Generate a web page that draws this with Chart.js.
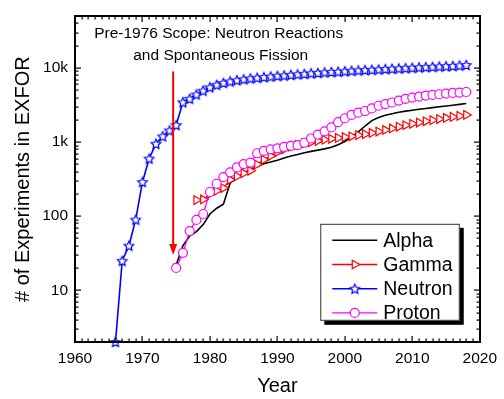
<!DOCTYPE html>
<html>
<head>
<meta charset="utf-8">
<script src="https://cdn.jsdelivr.net/npm/chart.js@4.4.0/dist/chart.umd.min.js"></script>
<style>
html,body{margin:0;padding:0;background:#fff;}
#wrap{width:504px;height:399px;position:relative;}
</style>
</head>
<body>
<div id="wrap"><canvas id="c" width="504" height="399"></canvas></div>
<script>
// ---------- data ----------
const years = [1966,1967,1968,1969,1970,1971,1972,1973,1974,1975,
  1976,1977,1978,1979,1980,1981,1982,1983,1984,1985,
  1986,1987,1988,1989,1990,1991,1992,1993,1994,1995,
  1996,1997,1998,1999,2000,2001,2002,2003,2004,2005,
  2006,2007,2008,2009,2010,2011,2012,2013,2014,2015,
  2016,2017,2018];

const neutron = [2,25,40,90,290,600,950,1200,1440,1700,
  3450,3850,4400,4950,5500,5950,6300,6600,6850,7050,
  7250,7400,7550,7700,7850,7950,8100,8250,8350,8500,
  8600,8750,8850,8950,9050,9200,9300,9400,9500,9600,
  9700,9800,9900,10000,10100,10200,10300,10400,10500,10600,
  10700,10850,11000];

const alpha = [null,null,null,null,null,null,null,null,null,22,
  40,54,62,77,107,128,145,280,330,380,
  430,470,510,540,570,610,650,680,720,750,
  780,810,850,920,1020,1180,1380,1650,1950,2150,
  2300,2420,2530,2620,2700,2780,2850,2920,3000,3080,
  3150,3230,3320];

const gamma = [null,null,null,null,null,null,null,null,null,null,
  null,null,165,168,200,220,240,310,345,380,
  410,500,580,650,730,800,870,920,960,1000,
  1040,1080,1110,1140,1170,1200,1240,1280,1330,1390,
  1460,1530,1610,1690,1770,1840,1910,1980,2050,2120,
  2190,2260,2330];

const proton = [null,null,null,null,null,null,null,null,null,20,
  32,63,89,107,212,274,336,391,456,506,
  530,707,760,800,825,860,890,910,980,1120,
  1265,1400,1580,1860,2100,2330,2500,2630,2850,3100,
  3260,3430,3640,3840,4000,4120,4250,4340,4430,4520,
  4620,4660,4750];

const seriesNames = ['Alpha','Gamma','Neutron','Proton'];
const xTickValues = [1960,1970,1980,1990,2000,2010,2020];
const yTickValues = [10,100,1000,10000];
const yTickLabels = ['10','100','1k','10k'];
const noteLines = ['Pre-1976 Scope: Neutron Reactions','and Spontaneous Fission'];
const arrowYear = 1974.55, arrowFrom = 9000, arrowTo = 30;

// ---------- helpers ----------
const FONT = "'Liberation Sans', Arial, Helvetica, sans-serif";
function pts(vals){ return years.map((y,i)=>({x:y, y:vals[i]})); }

function makeStar(r, color){
  const s = Math.ceil(r*2 + 4);
  const c = document.createElement('canvas');
  c.width = s; c.height = s;
  const g = c.getContext('2d');
  g.translate(s/2, s/2 + 0.5);
  g.beginPath();
  for (let i = 0; i < 10; i++){
    const rad = (i % 2) ? r*0.48 : r;
    const a = -Math.PI/2 + i*Math.PI/5;
    g.lineTo(rad*Math.cos(a), rad*Math.sin(a));
  }
  g.closePath();
  g.fillStyle = '#fff'; g.fill();
  g.strokeStyle = color; g.lineWidth = 1.2; g.stroke();
  return c;
}
const starImg = makeStar(5, '#0000ff');

function drawTicksAndFrame(chart){
  const {ctx, chartArea: ca, scales:{x, y}} = chart;
  const L0 = Math.round(ca.left), T0 = Math.round(ca.top);
  const R0 = Math.round(ca.right), B0 = Math.round(ca.bottom);
  ctx.save();
  ctx.fillStyle = '#000000';
  for (let yr = 1960; yr <= 2020; yr++){
    const px = Math.round(x.getPixelForValue(yr));
    const L = (yr % 10 === 0) ? 6 : 3.5;
    ctx.fillRect(px - 0.5, B0 - L, 1.2, L);
    ctx.fillRect(px - 0.5, T0, 1.2, L);
  }
  for (let d = 1; d <= 10000; d *= 10){
    for (let m = 1; m <= 9; m++){
      const v = m*d;
      if (v < 2 || v > 50000) continue;
      const py = Math.round(y.getPixelForValue(v));
      const L = (m === 1) ? 6 : 3.5;
      ctx.fillRect(L0, py - 0.5, L, 1.2);
      ctx.fillRect(R0 - L, py - 0.5, L, 1.2);
    }
  }
  const W = 2;
  ctx.fillRect(L0 - 1, T0 - 1, R0 - L0 + W, W);
  ctx.fillRect(L0 - 1, B0 - 1, R0 - L0 + W, W);
  ctx.fillRect(L0 - 1, T0 - 1, W, B0 - T0 + W);
  ctx.fillRect(R0 - 1, T0 - 1, W, B0 - T0 + W);
  ctx.restore();
}

// ---------- plugins ----------
const framePlugin = {
  id: 'frame',
  afterDatasetsDraw(chart){
    const {ctx, chartArea: ca, scales:{x, y}} = chart;
    ctx.save();
    const ax = x.getPixelForValue(arrowYear);
    const ay1 = y.getPixelForValue(arrowFrom);
    const ay2 = y.getPixelForValue(arrowTo);
    ctx.strokeStyle = '#ff0000'; ctx.fillStyle = '#ff0000'; ctx.lineWidth = 2;
    ctx.beginPath(); ctx.moveTo(ax, ay1); ctx.lineTo(ax, ay2 - 9); ctx.stroke();
    ctx.beginPath(); ctx.moveTo(ax - 4, ay2 - 11); ctx.lineTo(ax + 4, ay2 - 11); ctx.lineTo(ax, ay2); ctx.closePath(); ctx.fill();

    ctx.fillStyle = '#000';
    ctx.font = '15.5px ' + FONT;
    ctx.textAlign = 'center'; ctx.textBaseline = 'middle';
    const tx = x.getPixelForValue(1981.3);
    ctx.fillText(noteLines[0], tx, ca.top + 17);
    ctx.fillText(noteLines[1], tx + 2, ca.top + 39);
    ctx.restore();
  },
  afterDraw(chart){
    drawTicksAndFrame(chart);
    const {ctx, chartArea: ca} = chart;
    ctx.save();
    const bx = ca.right - 159.5, by = ca.top + 207.5, bw = 139.5, bh = 97;
    ctx.fillStyle = '#000';
    ctx.fillRect(bx + 4, by + 4, bw, bh);
    ctx.fillStyle = '#fff';
    ctx.fillRect(bx, by, bw, bh);
    ctx.lineWidth = 1; ctx.strokeStyle = '#333';
    ctx.strokeRect(bx + 0.5, by + 0.5, bw - 1, bh - 1);
    ctx.font = '19.5px ' + FONT;
    ctx.textAlign = 'left'; ctx.textBaseline = 'middle';
    chart.data.datasets.forEach((ds, i) => {
      const ry = by + 16.5 + i*24.2;
      ctx.strokeStyle = ds.borderColor; ctx.lineWidth = ds.borderWidth;
      ctx.beginPath(); ctx.moveTo(bx + 12, ry); ctx.lineTo(bx + 57, ry); ctx.stroke();
      if (ds.pointRadius > 0){
        ctx.fillStyle = ds.pointBackgroundColor; ctx.strokeStyle = ds.pointBorderColor;
        ctx.lineWidth = ds.pointBorderWidth;
        Chart.helpers.drawPoint(ctx, {pointStyle: ds.pointStyle, rotation: ds.pointRotation || 0,
          radius: ds.pointRadius, borderWidth: ds.pointBorderWidth}, bx + 34.5, ry);
      }
      ctx.fillStyle = '#000';
      ctx.fillText(ds.label, bx + 63, ry + 1);
    });
    ctx.restore();
  }
};

// ---------- chart ----------
new Chart(document.getElementById('c'), {
  type: 'line',
  data: {
    datasets: [
      { label: seriesNames[0], data: pts(alpha), borderColor: '#000000', borderWidth: 1.6,
        pointRadius: 0, pointHoverRadius: 0, order: 3, fill: false },
      { label: seriesNames[1], data: pts(gamma), borderColor: '#ff0000', borderWidth: 1.3,
        pointStyle: 'triangle', pointRotation: 90, pointRadius: 5, pointBorderWidth: 1.2,
        pointBorderColor: '#ff0000', pointBackgroundColor: '#ffffff', order: 2, fill: false },
      { label: seriesNames[2], data: pts(neutron), borderColor: '#0000ff', borderWidth: 1.6,
        pointStyle: starImg, pointRadius: 5, pointBorderWidth: 1.2,
        pointBorderColor: '#0000ff', pointBackgroundColor: '#ffffff', order: 1, fill: false, clip: 8 },
      { label: seriesNames[3], data: pts(proton), borderColor: '#ff00ff', borderWidth: 1.3,
        pointStyle: 'circle', pointRadius: 4.5, pointBorderWidth: 1.2,
        pointBorderColor: '#ff00ff', pointBackgroundColor: '#ffffff', order: 0, fill: false }
    ]
  },
  options: {
    responsive: false,
    animation: false,
    devicePixelRatio: 1,
    spanGaps: false,
    layout: { padding: { top: 12, right: 21, left: 0, bottom: 0 } },
    plugins: { legend: { display: false }, tooltip: { enabled: false } },
    scales: {
      x: {
        type: 'linear', min: 1960, max: 2020,
        grid: { display: false, drawTicks: false },
        border: { display: false },
        afterBuildTicks: s => { s.ticks = xTickValues.map(v => ({ value: v })); },
        afterFit: s => { s.height = 57; },
        ticks: { autoSkip: false, maxRotation: 0, padding: 7, color: '#000',
          font: { family: FONT, size: 15.5 }, callback: v => String(v) },
        title: { display: true, text: 'Year', color: '#000',
          font: { family: FONT, size: 20 }, padding: { top: 0, bottom: 1 } }
      },
      y: {
        type: 'logarithmic', min: 2, max: 50000,
        grid: { display: false, drawTicks: false },
        border: { display: false },
        afterBuildTicks: s => { s.ticks = yTickValues.map(v => ({ value: v, major: true })); },
        afterFit: s => { s.width = 75; },
        ticks: { autoSkip: false, padding: 7, color: '#000',
          font: { family: FONT, size: 15.5 },
          callback: v => { const k = yTickValues.indexOf(v); return k >= 0 ? yTickLabels[k] : ''; } },
        title: { display: true, text: '# of Experiments in EXFOR', color: '#000',
          font: { family: FONT, size: 20 }, padding: { top: 11, bottom: 0 } }
      }
    }
  },
  plugins: [framePlugin]
});
</script>
</body>
</html>
